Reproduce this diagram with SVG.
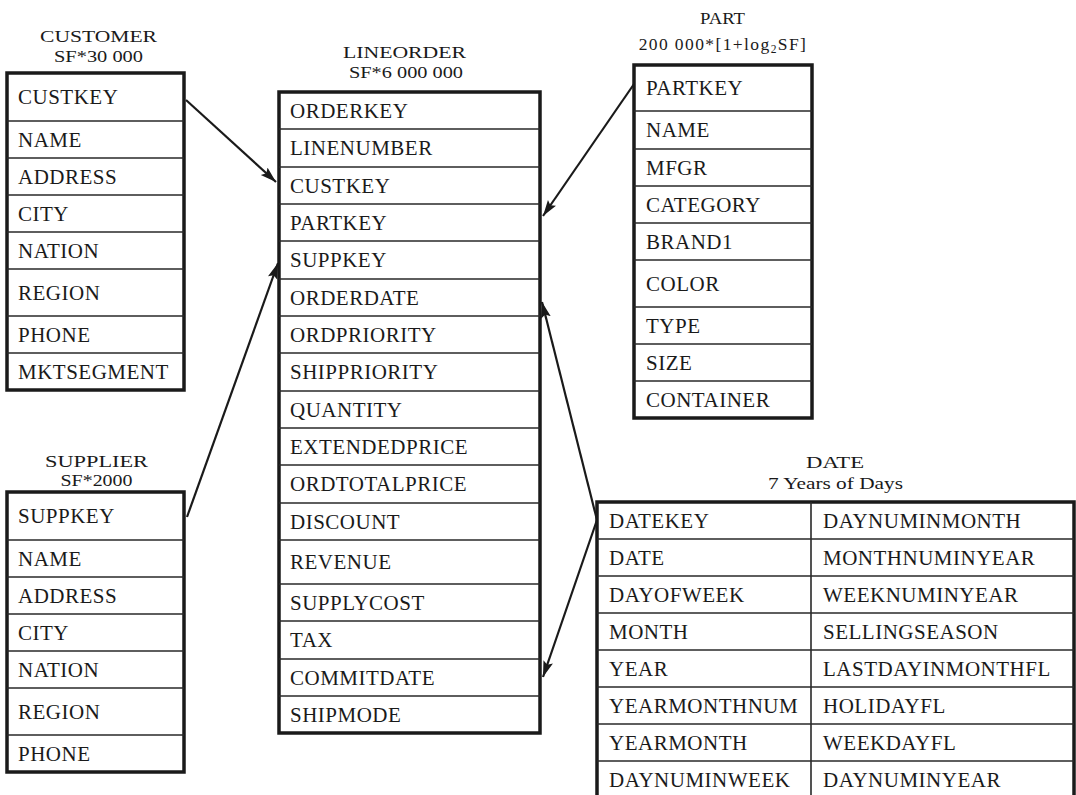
<svg xmlns="http://www.w3.org/2000/svg" width="1076" height="795" viewBox="0 0 1076 795">
<style>
text{font-family:"Liberation Serif","Times New Roman",serif;fill:#1a1a1a}
.h{font-size:17.5px;text-anchor:middle}
.r{font-size:21px;letter-spacing:0.5px}
.box{fill:#fff;stroke:#1a1a1a;stroke-width:3.5}
.ln{stroke:#2a2a2a;stroke-width:1.6}
.con{stroke:#1a1a1a;stroke-width:2.2;fill:none;marker-end:url(#ah)}
</style>
<defs>
<marker id="ah" markerUnits="userSpaceOnUse" markerWidth="18" markerHeight="12" refX="16" refY="5" orient="auto">
<path d="M0,0 L16,5 L0,10 L3,5 z" fill="#1a1a1a"/>
</marker>
</defs>
<rect width="1076" height="795" fill="#fff"/>

<g id="customer">
<text class="h" x="98.5" y="42" textLength="117" lengthAdjust="spacingAndGlyphs">CUSTOMER</text>
<text class="h" x="98.5" y="62" textLength="89" lengthAdjust="spacingAndGlyphs">SF*30 000</text>
<rect class="box" x="7" y="73" width="177" height="317"/>
<path class="ln" d="M7,121H184M7,158H184M7,195H184M7,232H184M7,269H184M7,316H184M7,353H184"/>
<text class="r" x="18" y="104">CUSTKEY</text>
<text class="r" x="18" y="147">NAME</text>
<text class="r" x="18" y="184">ADDRESS</text>
<text class="r" x="18" y="221">CITY</text>
<text class="r" x="18" y="258">NATION</text>
<text class="r" x="18" y="300">REGION</text>
<text class="r" x="18" y="342">PHONE</text>
<text class="r" x="18" y="379">MKTSEGMENT</text>
</g>

<g id="supplier">
<text class="h" x="96.5" y="467" textLength="103" lengthAdjust="spacingAndGlyphs">SUPPLIER</text>
<text class="h" x="96.5" y="486" textLength="72" lengthAdjust="spacingAndGlyphs">SF*2000</text>
<rect class="box" x="7" y="492" width="177" height="280"/>
<path class="ln" d="M7,540H184M7,577H184M7,614H184M7,651H184M7,688H184M7,735H184"/>
<text class="r" x="18" y="523">SUPPKEY</text>
<text class="r" x="18" y="566">NAME</text>
<text class="r" x="18" y="603">ADDRESS</text>
<text class="r" x="18" y="640">CITY</text>
<text class="r" x="18" y="677">NATION</text>
<text class="r" x="18" y="719">REGION</text>
<text class="r" x="18" y="761">PHONE</text>
</g>

<g id="lineorder">
<text class="h" x="404.5" y="58" textLength="123" lengthAdjust="spacingAndGlyphs">LINEORDER</text>
<text class="h" x="406" y="78" textLength="114" lengthAdjust="spacingAndGlyphs">SF*6 000 000</text>
<rect class="box" x="279" y="92" width="261" height="641"/>
<path class="ln" d="M279,129H540M279,167H540M279,204H540M279,241H540M279,279H540M279,316H540M279,353H540M279,391H540M279,428H540M279,465H540M279,503H540M279,540H540M279,584H540M279,621H540M279,659H540M279,696H540"/>
<text class="r" x="290" y="118">ORDERKEY</text>
<text class="r" x="290" y="155">LINENUMBER</text>
<text class="r" x="290" y="193">CUSTKEY</text>
<text class="r" x="290" y="230">PARTKEY</text>
<text class="r" x="290" y="267">SUPPKEY</text>
<text class="r" x="290" y="305">ORDERDATE</text>
<text class="r" x="290" y="342">ORDPRIORITY</text>
<text class="r" x="290" y="379">SHIPPRIORITY</text>
<text class="r" x="290" y="417">QUANTITY</text>
<text class="r" x="290" y="454">EXTENDEDPRICE</text>
<text class="r" x="290" y="491">ORDTOTALPRICE</text>
<text class="r" x="290" y="529">DISCOUNT</text>
<text class="r" x="290" y="569">REVENUE</text>
<text class="r" x="290" y="610">SUPPLYCOST</text>
<text class="r" x="290" y="647">TAX</text>
<text class="r" x="290" y="685">COMMITDATE</text>
<text class="r" x="290" y="722">SHIPMODE</text>
</g>

<g id="part">
<text class="h" x="722.5" y="24" textLength="45" lengthAdjust="spacingAndGlyphs">PART</text>
<text class="h" x="723" y="50" font-size="19.5" letter-spacing="1.4">200 000*[1+log<tspan font-size="11.5" dy="3">2</tspan><tspan dy="-3">SF]</tspan></text>
<rect class="box" x="634" y="65" width="178" height="353"/>
<path class="ln" d="M634,111H812M634,149H812M634,186H812M634,223H812M634,260H812M634,307H812M634,344H812M634,381H812"/>
<text class="r" x="646" y="95">PARTKEY</text>
<text class="r" x="646" y="137">NAME</text>
<text class="r" x="646" y="175">MFGR</text>
<text class="r" x="646" y="212">CATEGORY</text>
<text class="r" x="646" y="249">BRAND1</text>
<text class="r" x="646" y="291">COLOR</text>
<text class="r" x="646" y="333">TYPE</text>
<text class="r" x="646" y="370">SIZE</text>
<text class="r" x="646" y="407">CONTAINER</text>
</g>

<g id="date">
<text class="h" x="835" y="468" textLength="58" lengthAdjust="spacingAndGlyphs">DATE</text>
<text class="h" x="835.5" y="489" textLength="135" lengthAdjust="spacingAndGlyphs">7 Years of Days</text>
<rect class="box" x="597" y="502" width="477" height="296"/>
<path class="ln" d="M597,539H1074M597,576H1074M597,613H1074M597,650H1074M597,687H1074M597,724H1074M597,761H1074M811,502V798"/>
<text class="r" x="609" y="528">DATEKEY</text>
<text class="r" x="609" y="565">DATE</text>
<text class="r" x="609" y="602">DAYOFWEEK</text>
<text class="r" x="609" y="639">MONTH</text>
<text class="r" x="609" y="676">YEAR</text>
<text class="r" x="609" y="713">YEARMONTHNUM</text>
<text class="r" x="609" y="750">YEARMONTH</text>
<text class="r" x="609" y="787">DAYNUMINWEEK</text>
<text class="r" x="823" y="528">DAYNUMINMONTH</text>
<text class="r" x="823" y="565">MONTHNUMINYEAR</text>
<text class="r" x="823" y="602">WEEKNUMINYEAR</text>
<text class="r" x="823" y="639">SELLINGSEASON</text>
<text class="r" x="823" y="676">LASTDAYINMONTHFL</text>
<text class="r" x="823" y="713">HOLIDAYFL</text>
<text class="r" x="823" y="750">WEEKDAYFL</text>
<text class="r" x="823" y="787">DAYNUMINYEAR</text>
</g>

<g id="connectors">
<path class="con" d="M186,100L276,182"/>
<path class="con" d="M187,517L278,263"/>
<path class="con" d="M634,84L543,216"/>
<path class="con" d="M597,520L542,302"/>
<path class="con" d="M597,520L543,677"/>
</g>
</svg>
